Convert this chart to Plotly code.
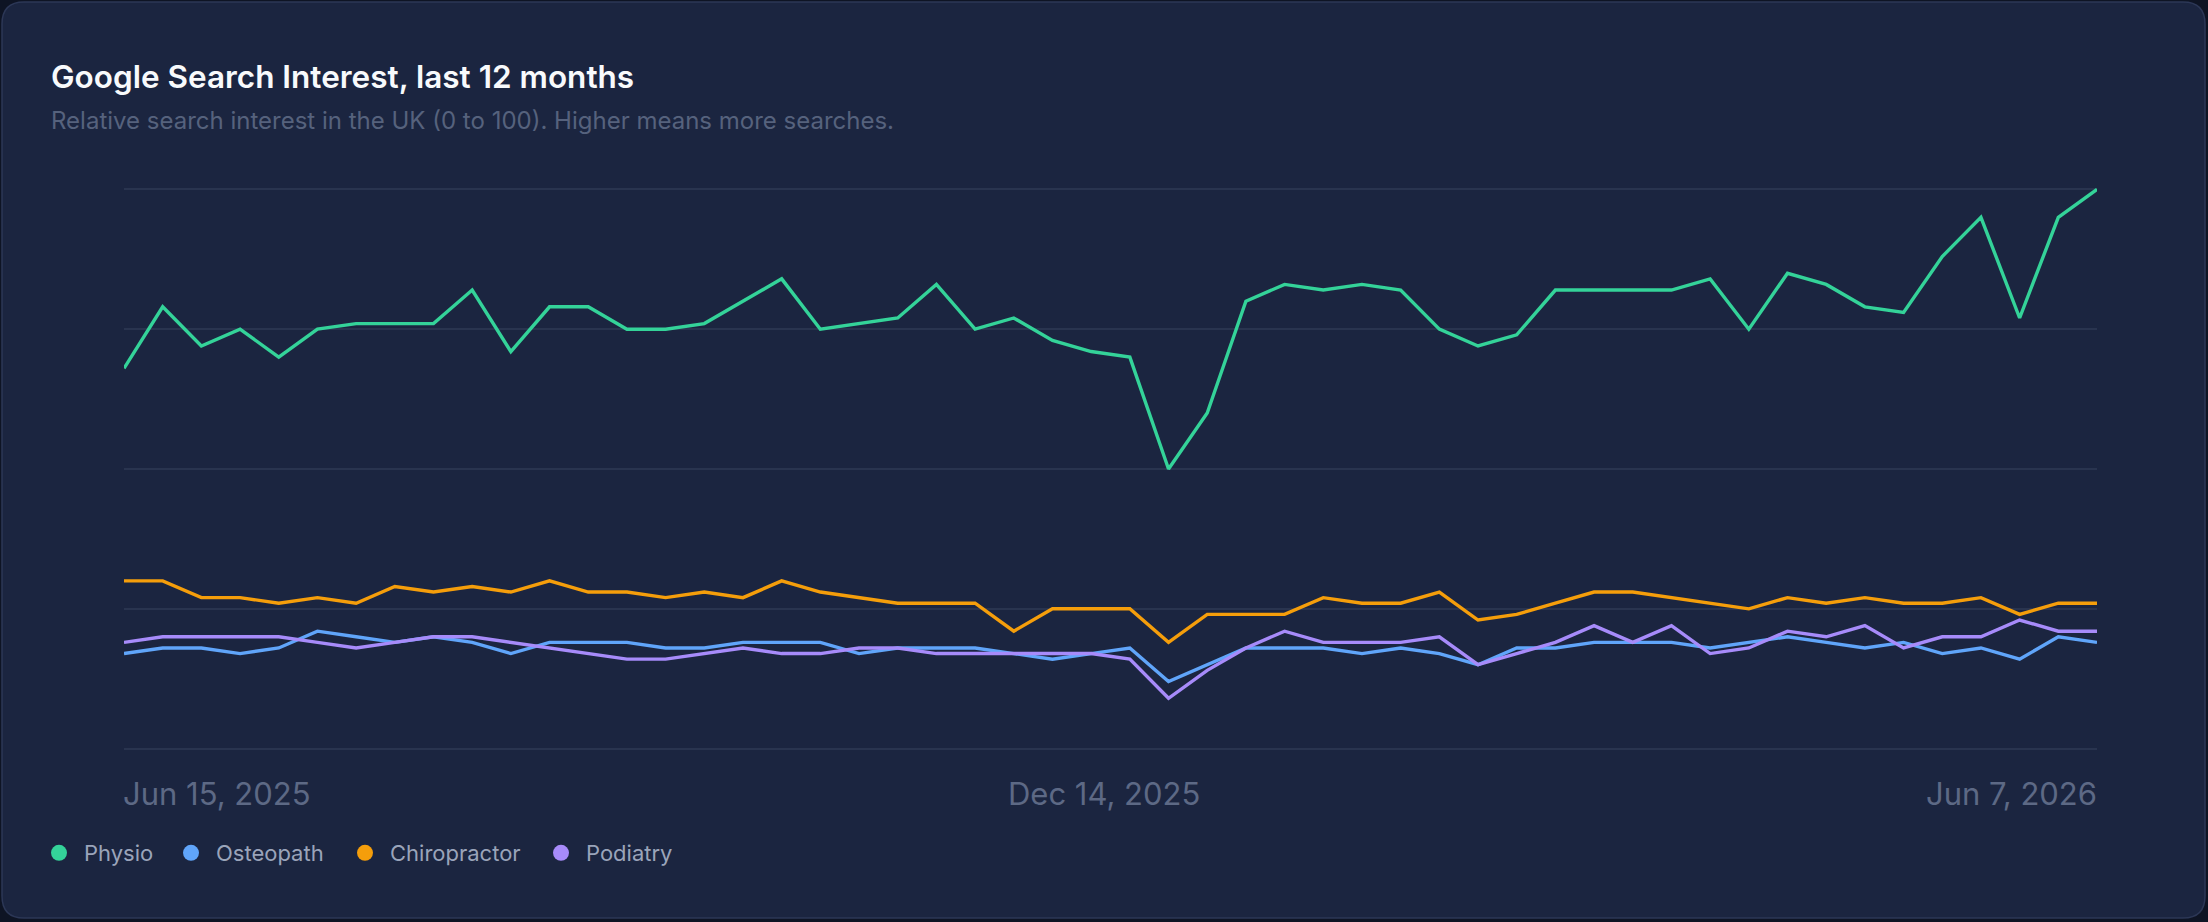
import pandas as pd
import plotly.graph_objects as go

# ---------------- data ----------------
START_DATE = "2025-06-15"
N_WEEKS = 52
dates = pd.date_range(start=START_DATE, periods=N_WEEKS, freq="7D")

physio = [68, 79, 72, 75, 70, 75, 76, 76, 76, 82, 71, 79, 79, 75, 75, 76, 80, 84, 75, 76,
          77, 83, 75, 77, 73, 71, 70, 50, 60, 80, 83, 82, 83, 82, 75, 72, 74, 82, 82, 82,
          82, 84, 75, 85, 83, 79, 78, 88, 95, 77, 95, 100]
osteopath = [17, 18, 18, 17, 18, 21, 20, 19, 20, 19, 17, 19, 19, 19, 18, 18, 19, 19, 19, 17,
             18, 18, 18, 17, 16, 17, 18, 12, 15, 18, 18, 18, 17, 18, 17, 15, 18, 18, 19, 19,
             19, 18, 19, 20, 19, 18, 19, 17, 18, 16, 20, 19]
chiropractor = [30, 30, 27, 27, 26, 27, 26, 29, 28, 29, 28, 30, 28, 28, 27, 28, 27, 30, 28, 27,
                26, 26, 26, 21, 25, 25, 25, 19, 24, 24, 24, 27, 26, 26, 28, 23, 24, 26, 28, 28,
                27, 26, 25, 27, 26, 27, 26, 26, 27, 24, 26, 26]
podiatry = [19, 20, 20, 20, 20, 19, 18, 19, 20, 20, 19, 18, 17, 16, 16, 17, 18, 17, 17, 18,
            18, 17, 17, 17, 17, 17, 16, 9, 14, 18, 21, 19, 19, 19, 20, 15, 17, 19, 22, 19,
            22, 17, 18, 21, 20, 22, 18, 20, 20, 23, 21, 21]

series_names = ["Physio", "Osteopath", "Chiropractor", "Podiatry"]
series_values = [physio, osteopath, chiropractor, podiatry]
series_colors = ["#34d399", "#60a5fa", "#f59e0b", "#a78bfa"]

y_ticks = [0, 25, 50, 75, 100]
x_tick_labels = ["Jun 15, 2025", "Dec 14, 2025", "Jun 7, 2026"]

TITLE = "Google Search Interest, last 12 months"
SUBTITLE = "Relative search interest in the UK (0 to 100). Higher means more searches."

# ---------------- layout geometry ----------------
W, H = 2208, 922
ML, MR, MT, MB = 124, 111, 186, 170
PW = W - ML - MR
PH = H - MT - MB
FONT = "Inter, 'Noto Sans', sans-serif"

OUTER_BG = "#0e1424"
CARD_BG = "#1b2540"
CARD_BORDER = "#2c3756"
GRID = "#29344f"
TICK_COLOR = "#5d6985"
LEGEND_X_PX = [34, 166, 340, 536]


def px_x(p):
    return (p - ML) / PW


def px_y(p):
    return (H - MB - p) / PH


def rounded_rect(x0, y0, x1, y1, r):
    pts = [
        f"M {px_x(x0 + r)},{px_y(y0)}",
        f"L {px_x(x1 - r)},{px_y(y0)}",
        f"Q {px_x(x1)},{px_y(y0)} {px_x(x1)},{px_y(y0 + r)}",
        f"L {px_x(x1)},{px_y(y1 - r)}",
        f"Q {px_x(x1)},{px_y(y1)} {px_x(x1 - r)},{px_y(y1)}",
        f"L {px_x(x0 + r)},{px_y(y1)}",
        f"Q {px_x(x0)},{px_y(y1)} {px_x(x0)},{px_y(y1 - r)}",
        f"L {px_x(x0)},{px_y(y0 + r)}",
        f"Q {px_x(x0)},{px_y(y0)} {px_x(x0 + r)},{px_y(y0)}",
        "Z",
    ]
    return " ".join(pts)


fig = go.Figure()

for name, vals, col in zip(series_names, series_values, series_colors):
    fig.add_trace(go.Scatter(
        x=dates, y=vals, mode="lines", name=name,
        line=dict(color=col, width=3.4), showlegend=False,
        hovertemplate="%{x|%b %d, %Y}: %{y}<extra>" + name + "</extra>",
    ))

# legend entries shown as dots, one legend box per entry for exact spacing
legend_ids = ["legend", "legend2", "legend3", "legend4"]
for name, col, lid in zip(series_names, series_colors, legend_ids):
    fig.add_trace(go.Scatter(
        x=[None], y=[None], mode="markers", name=name, legend=lid,
        marker=dict(color=col, size=16, symbol="circle"), showlegend=True,
    ))

legend_layout = {}
for lid, lx in zip(legend_ids, LEGEND_X_PX):
    legend_layout[lid] = dict(
        orientation="h", x=px_x(lx), y=px_y(853), xanchor="left", yanchor="middle",
        font=dict(family=FONT, size=22, color="#9aa4ba"),
        bgcolor="rgba(0,0,0,0)", itemsizing="trace", itemwidth=40,
    )

mid_date = dates[0] + (dates[-1] - dates[0]) / 2
label_y = px_y(793)
tick_font = dict(family=FONT, size=31, color=TICK_COLOR)
annotations = [
    dict(text=TITLE, xref="paper", yref="paper", x=px_x(49), y=px_y(77),
         xanchor="left", yanchor="middle", showarrow=False,
         font=dict(family=FONT, size=31.5, color="#f8fafc", weight=600)),
    dict(text=SUBTITLE, xref="paper", yref="paper", x=px_x(49), y=px_y(120),
         xanchor="left", yanchor="middle", showarrow=False,
         font=dict(family=FONT, size=24, color="#56627d")),
    dict(text=x_tick_labels[0], xref="x", yref="paper", x=dates[0], y=label_y,
         xanchor="left", yanchor="middle", showarrow=False, xshift=-3, font=tick_font),
    dict(text=x_tick_labels[1], xref="x", yref="paper", x=mid_date, y=label_y,
         xanchor="center", yanchor="middle", showarrow=False, xshift=-7, font=tick_font),
    dict(text=x_tick_labels[2], xref="x", yref="paper", x=dates[-1], y=label_y,
         xanchor="right", yanchor="middle", showarrow=False, xshift=2, font=tick_font),
]

fig.update_layout(
    width=W, height=H,
    margin=dict(l=ML, r=MR, t=MT, b=MB, pad=0),
    paper_bgcolor=OUTER_BG,
    plot_bgcolor="rgba(0,0,0,0)",
    font=dict(family=FONT, color="#9aa3b8"),
    showlegend=True,
    shapes=[dict(type="path", xref="paper", yref="paper",
                 path=rounded_rect(2, 2, 2205, 918, 22),
                 fillcolor=CARD_BG, line=dict(color=CARD_BORDER, width=1.5),
                 layer="below")],
    annotations=annotations,
    xaxis=dict(type="date", range=[dates[0], dates[-1]], showgrid=False,
               showticklabels=False, zeroline=False, showline=False, ticks=""),
    yaxis=dict(range=[-0.6, 100.6], tickvals=y_ticks, showticklabels=False,
               showgrid=True, gridcolor=GRID, gridwidth=2,
               zeroline=True, zerolinecolor=GRID, zerolinewidth=2,
               showline=False, ticks=""),
    **legend_layout,
)

fig.write_html("out.html")
